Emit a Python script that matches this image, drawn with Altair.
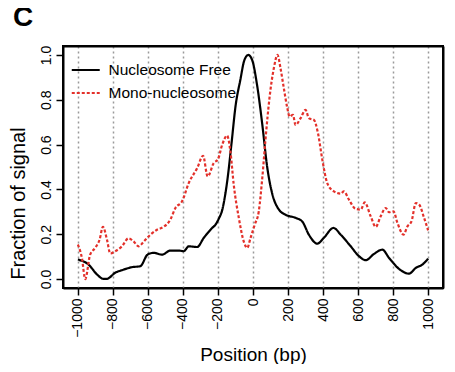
import altair as alt
import pandas as pd

# Nucleosome Free (black solid)
free_pos = [-1000, -940, -890, -855, -835, -787, -739, -691, -644, -602, -568, -519,
            -472, -424, -396, -367, -319, -281, -233, -214, -195, -175, -160, -145,
            -122, -100, -72, -50, -27, -5, 24, 53, 81, 110, 148, 186, 243, 281, 319,
            367, 405, 459, 501, 558, 605, 644, 691, 739, 777, 844, 891, 930, 968, 1000]
free_val = [0.087, 0.065, 0.020, 0.001, 0.001, 0.028, 0.042, 0.053, 0.057, 0.109, 0.117, 0.109,
            0.127, 0.127, 0.124, 0.146, 0.143, 0.184, 0.228, 0.243, 0.27, 0.31, 0.37, 0.45,
            0.61, 0.77, 0.89, 0.975, 1.0, 0.978, 0.862, 0.69, 0.50, 0.38, 0.31, 0.287, 0.273, 0.257, 0.198,
            0.158, 0.184, 0.228, 0.198, 0.146, 0.102, 0.084, 0.112, 0.131, 0.094, 0.039, 0.024, 0.05, 0.065, 0.091]

# Mono-nucleosome (red dotted)
mono_pos = [-1000, -977, -958, -930, -901, -876, -857, -834, -815, -787, -748, -711, -682,
            -653, -625, -586, -548, -510, -472, -443, -405, -367, -319, -285, -259, -224,
            -200, -176, -148, -129, -110, -81, -53, -33, -14, 10, 33, 53, 72, 94, 119, 140,
            157, 176, 196, 209, 228, 243, 272, 300, 319, 348, 371, 396, 424, 462, 501, 519,
            548, 586, 615, 638, 672, 701, 729, 758, 777, 802, 825, 859, 882, 905, 930, 949, 977, 1000]
mono_val = [0.154, 0.094, 0.0, 0.109, 0.139, 0.176, 0.233, 0.176, 0.114, 0.124, 0.146, 0.182, 0.168,
            0.146, 0.166, 0.198, 0.22, 0.233, 0.265, 0.317, 0.347, 0.428, 0.495, 0.55, 0.458, 0.518,
            0.535, 0.599, 0.64, 0.569, 0.421, 0.273, 0.168, 0.139, 0.184, 0.243, 0.302, 0.451, 0.629, 0.807, 0.941, 1.0,
            0.941, 0.852, 0.763, 0.725, 0.733, 0.688, 0.718, 0.755, 0.718, 0.71, 0.651, 0.532, 0.428, 0.391, 0.381, 0.391,
            0.354, 0.313, 0.31, 0.342, 0.28, 0.233, 0.28, 0.317, 0.298, 0.302, 0.25, 0.198, 0.235, 0.257, 0.339, 0.332, 0.273, 0.217]

series_names = ["Nucleosome Free", "Mono-nucleosome"]
x_ticks = list(range(-1000, 1001, 200))
y_ticks = [0.0, 0.2, 0.4, 0.6, 0.8, 1.0]

df = pd.concat([
    pd.DataFrame({"pos": free_pos, "val": free_val, "series": series_names[0], "ord": 0}),
    pd.DataFrame({"pos": mono_pos, "val": mono_val, "series": series_names[1], "ord": 1}),
])

FONT = "Liberation Sans"
W, H = 380, 242
x_scale = alt.Scale(domain=[-1085, 1085], nice=False, zero=False)
y_scale = alt.Scale(domain=[-0.04, 1.04], nice=False, zero=False)

legend_kw = dict(orient="none", legendX=15, legendY=16.3, title=None,
                 padding=0, symbolType="M-3,0H3", symbolSize=87,
                 symbolStrokeWidth=2, labelFontSize=15.5, labelFont=FONT,
                 labelColor="black", labelOffset=15, rowPadding=6)

lines = alt.Chart(df).mark_line(strokeWidth=2.2, interpolate="monotone").encode(
    x=alt.X("pos:Q", scale=x_scale,
            axis=alt.Axis(values=x_ticks, format="d", labelAngle=270, labelFontSize=14, labelPadding=3,
                          tickSize=7, tickColor="black", tickWidth=1.5,
                          domain=True, domainColor="black", domainWidth=2,
                          grid=True, gridDash=[2, 3], gridColor="#9a9a9a", gridWidth=1.5,
                          labelColor="black", labelFont=FONT, labelOverlap=False,
                          title="Position (bp)", titleFontSize=19, titleFontWeight="normal",
                          titleFont=FONT, titleColor="black",
                          titleX=190, titleY=72, titleBaseline="alphabetic")),
    y=alt.Y("val:Q", scale=y_scale,
            axis=alt.Axis(values=y_ticks, format=".1f", labelAngle=270, labelFontSize=14,
                          labelPadding=3, tickSize=7, tickColor="black", tickWidth=1.5,
                          domain=True, domainColor="black", domainWidth=2,
                          grid=False, labelColor="black", labelFont=FONT,
                          title="Fraction of signal", titleFontSize=20, titleFontWeight="normal",
                          titleFont=FONT, titleColor="black", titleAngle=270,
                          titleX=-44.5, titleY=157, titleAlign="center", titleBaseline="middle")),
    color=alt.Color("series:N",
                    scale=alt.Scale(domain=series_names, range=["black", "#e3302a"]),
                    legend=alt.Legend(**legend_kw)),
    strokeDash=alt.StrokeDash("series:N",
                              scale=alt.Scale(domain=series_names, range=[[1, 0], [3, 2]]),
                              legend=alt.Legend(**legend_kw)),
    order="ord:Q",
)

# invisible layer that only carries the top and right edges of the plot box
edges = alt.Chart(df).mark_point(opacity=0).encode(
    x=alt.X("pos:Q", scale=x_scale,
            axis=alt.Axis(orient="top", labels=False, ticks=False, grid=False, title=None,
                          domain=True, domainColor="black", domainWidth=2)),
    y=alt.Y("val:Q", scale=y_scale,
            axis=alt.Axis(orient="right", labels=False, ticks=False, grid=False, title=None,
                          domain=True, domainColor="black", domainWidth=2)),
)

chart = alt.layer(lines, edges).resolve_axis(x="independent", y="independent").properties(
    width=W, height=H,
    title=alt.TitleParams("C", anchor="start", frame="group", fontSize=28, fontWeight="bold",
                          font=FONT, color="black", dx=-50, dy=9, offset=0, baseline="alphabetic"),
    autosize=alt.AutoSizeParams(type="none"),
    padding={"left": 55, "top": 38, "right": 4, "bottom": 76},
).configure_view(stroke="#000000", strokeWidth=2)

chart.save("out.html", embed_options={"renderer": "svg", "actions": False})
